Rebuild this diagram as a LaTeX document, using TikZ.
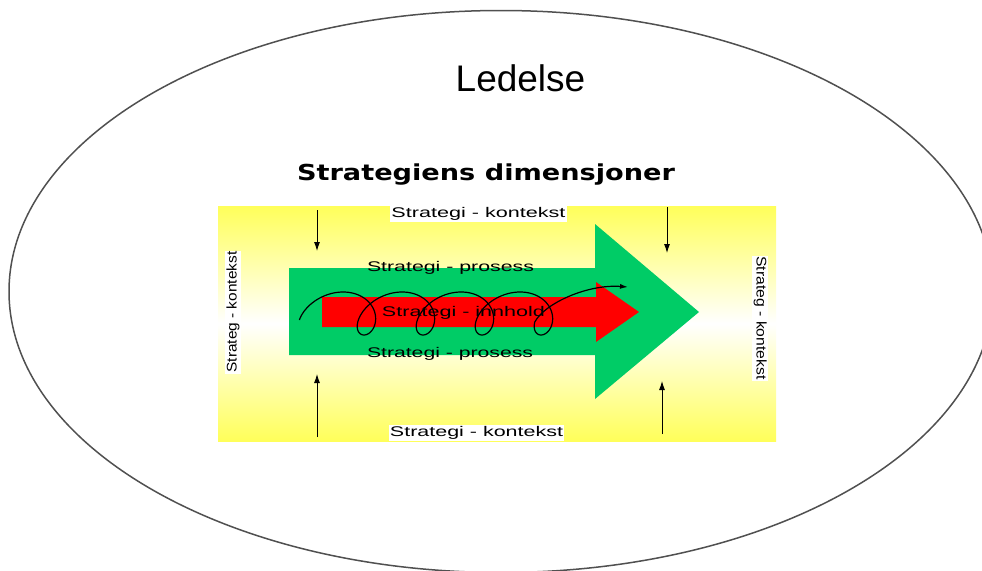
\documentclass[tikz,border=0pt]{standalone}
\usepackage{fontspec}
\usepackage{graphicx}
\setmainfont{Liberation Sans}
\newfontfamily\titlefont{DejaVu Sans}
\usetikzlibrary{arrows.meta}
\definecolor{ylw}{RGB}{255,255,90}
\definecolor{grn}{RGB}{0,204,102}
\definecolor{rd}{RGB}{255,0,0}
\definecolor{rim}{RGB}{80,80,80}
\newcommand\stretchtxt[2]{\resizebox{#1}{\height}{#2}}
\begin{document}
\begin{tikzpicture}[x=1pt,y=-1pt,
  lbl/.style={inner sep=0pt, text height=10pt, text depth=3pt, font=\fontsize{14}{16}\selectfont},
  ctx/.style={lbl, fill=white, inner xsep=1pt, inner ysep=1.5pt},
  ptr/.style={line width=0.9pt, -{Latex[length=9pt,width=6pt]}},
  coil/.style={line width=1.2pt, -{Latex[length=8pt,width=5pt]}},
]
\useasboundingbox (0,0) rectangle (982,570);
\clip (0,0) rectangle (982,570);
\fill[white] (0,0) rectangle (982,570);
% outer ellipse
\draw[rim, line width=1.5pt] (501,291.5) ellipse [x radius=492, y radius=281];
% titles
\node[anchor=base, inner sep=0pt, font=\fontsize{37}{44}\selectfont] (led) at (520.5,91) {Ledelse};
\node[anchor=base, inner sep=0pt, font=\titlefont\bfseries\fontsize{22}{26}\selectfont] (title) at (486,180) {\stretchtxt{378pt}{Strategiens dimensjoner}};
% yellow field
\shade[top color=ylw, bottom color=ylw, middle color=white] (218,206) rectangle (776,441);
% green arrow
\fill[grn] (289,268) -- (595,268) -- (595,224) -- (699,312) -- (595,399) -- (595,355) -- (289,355) -- cycle;
% red arrow
\fill[rd] (322,297) -- (596,297) -- (596,282) -- (639,312) -- (596,342) -- (596,327) -- (322,327) -- cycle;
% labels
\node[lbl] (pu) at (450.5,267.5) {\stretchtxt{167pt}{Strategi - prosess}};
\node[lbl] (inn) at (463.5,312.5) {\stretchtxt{163pt}{Strategi - innhold}};
\node[lbl] (pl) at (450,353.5) {\stretchtxt{166pt}{Strategi - prosess}};
% coil
\draw[coil] plot[domain=1.264:26.3, samples=400, variable=\t]
  ({309.3+9.39*\t-21.5*sin(\t r)-4.3*cos(\t r)}, {313.5+21.5*cos(\t r)})
  .. controls (545,303) and (588,284) .. (628,287);
% context labels
\node[ctx] (kt) at (478.5,213.5) {\stretchtxt{174pt}{Strategi - kontekst}};
\node[ctx] (kb) at (476.5,432.5) {\stretchtxt{173pt}{Strategi - kontekst}};
\node[ctx, rotate=90] (kl) at (233,312) {\stretchtxt{121pt}{Strateg - kontekst}};
\node[ctx, rotate=-90] (kr) at (760,318) {\stretchtxt{123pt}{Strateg - kontekst}};
% context arrows
\coordinate (a1s) at (317,210); \coordinate (a1e) at (317,251);
\coordinate (a2s) at (667,207); \coordinate (a2e) at (667,253);
\coordinate (a3s) at (317,437); \coordinate (a3e) at (317,374);
\coordinate (a4s) at (662,434); \coordinate (a4e) at (662,381);
\draw[ptr] (a1s) -- (a1e);
\draw[ptr] (a2s) -- (a2e);
\draw[ptr] (a3s) -- (a3e);
\draw[ptr] (a4s) -- (a4e);
\end{tikzpicture}
\end{document}
